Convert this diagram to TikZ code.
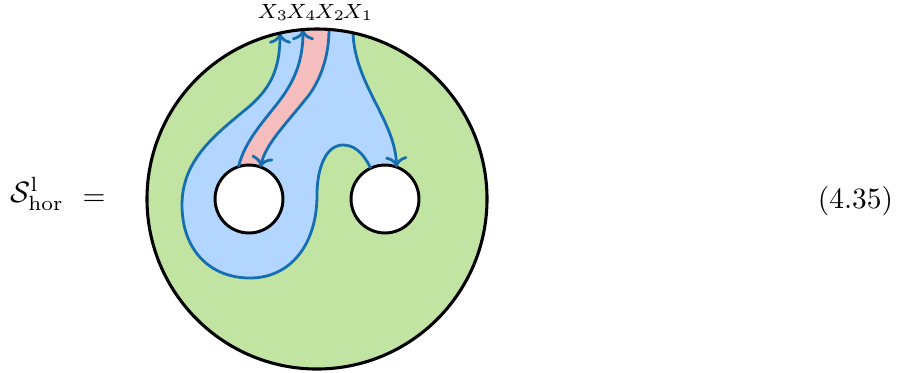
\documentclass[tikz,border=0pt]{standalone}
\usetikzlibrary{arrows.meta}
\definecolor{diskgreen}{RGB}{194,228,163}
\definecolor{bandblue}{RGB}{178,214,255}
\definecolor{bandred}{RGB}{245,189,189}
\definecolor{linecol}{RGB}{20,110,175}
\tikzset{
  strand/.style={draw=linecol,line width=0.95pt},
  arr/.style={-{Computer Modern Rightarrow[width=7.5pt,length=3.6pt]}},
  holestyle/.style={draw=black,fill=white,line width=1pt},
  lab/.style={inner sep=0pt,font=\scriptsize}
}
\begin{document}
\begin{tikzpicture}[x=0.34pt,y=-0.34pt]
\useasboundingbox (0,0) rectangle (910,372);
% disk
\coordinate (C) at (317,199);
\fill[diskgreen] (C) circle[radius=170];
% coordinates
\coordinate (rA) at (370.6,168.2);
\coordinate (rB) at (396.6,167);
\coordinate (lA) at (238.5,166.7);
\coordinate (lB) at (260.6,167);
\coordinate (t3) at (280,33.1);
\coordinate (t4) at (303,29.6);
\coordinate (t2) at (329,29.4);
\coordinate (t1) at (353,32.9);
\begin{scope}
\clip (C) circle[radius=170];
% blue band
\fill[bandblue] (rA) .. controls (362,150) and (352,145) .. (343,145)
  .. controls (325,145) and (317,170) .. (317,195)
  .. controls (317,245) and (290,278) .. (250,278)
  .. controls (210,278) and (182,250) .. (182,205)
  .. controls (182,160) and (215,135) .. (245,110)
  .. controls (270,90) and (280,70) .. (t3) -- (280,0) -- (353,0) -- (t1)
  .. controls (355,85) and (395,120) .. (rB) -- cycle;
% red band
\fill[bandred] (lA) .. controls (245,140) and (265,120) .. (280,100)
  .. controls (295,80) and (303,60) .. (t4) -- (303,0) -- (329,0) -- (t2)
  .. controls (329,60) and (318,85) .. (305,100)
  .. controls (285,125) and (265,145) .. (lB) -- cycle;
\end{scope}
% holes
\node[holestyle,circle,minimum size=23.1pt,inner sep=0pt] (h1) at (249,199) {};
\node[holestyle,circle,minimum size=23.1pt,inner sep=0pt] (h2) at (385,199) {};
% strands
\draw[strand,arr] (rA) .. controls (362,150) and (352,145) .. (343,145)
  .. controls (325,145) and (317,170) .. (317,195)
  .. controls (317,245) and (290,278) .. (250,278)
  .. controls (210,278) and (182,250) .. (182,205)
  .. controls (182,160) and (215,135) .. (245,110)
  .. controls (270,90) and (280,70) .. (t3);
\draw[strand,arr] (lA) .. controls (245,140) and (265,120) .. (280,100)
  .. controls (295,80) and (303,60) .. (t4);
\draw[strand,arr] (t2) .. controls (329,60) and (318,85) .. (305,100)
  .. controls (285,125) and (265,145) .. (lB);
\draw[strand,arr] (t1) .. controls (355,85) and (395,120) .. (rB);
% outer boundary
\draw[line width=1.05pt] (C) circle[radius=170];
% labels
\node[lab,anchor=base] (x3) at (273,18) {$X_3$};
\node[lab,anchor=base] (x4) at (301.5,18) {$X_4$};
\node[lab,anchor=base] (x2) at (330,18) {$X_2$};
\node[lab,anchor=base] (x1) at (358,18) {$X_1$};
\node[inner sep=0pt,anchor=base west] (lhs) at (10,202) {$\mathcal{S}^{\mathrm{l}}_{\mathrm{hor}}$};
\node[inner sep=0pt] (eq) at (94,200) {$=$};
\node[inner sep=0pt] (num) at (855.5,201) {(4.35)};
\end{tikzpicture}
\end{document}
